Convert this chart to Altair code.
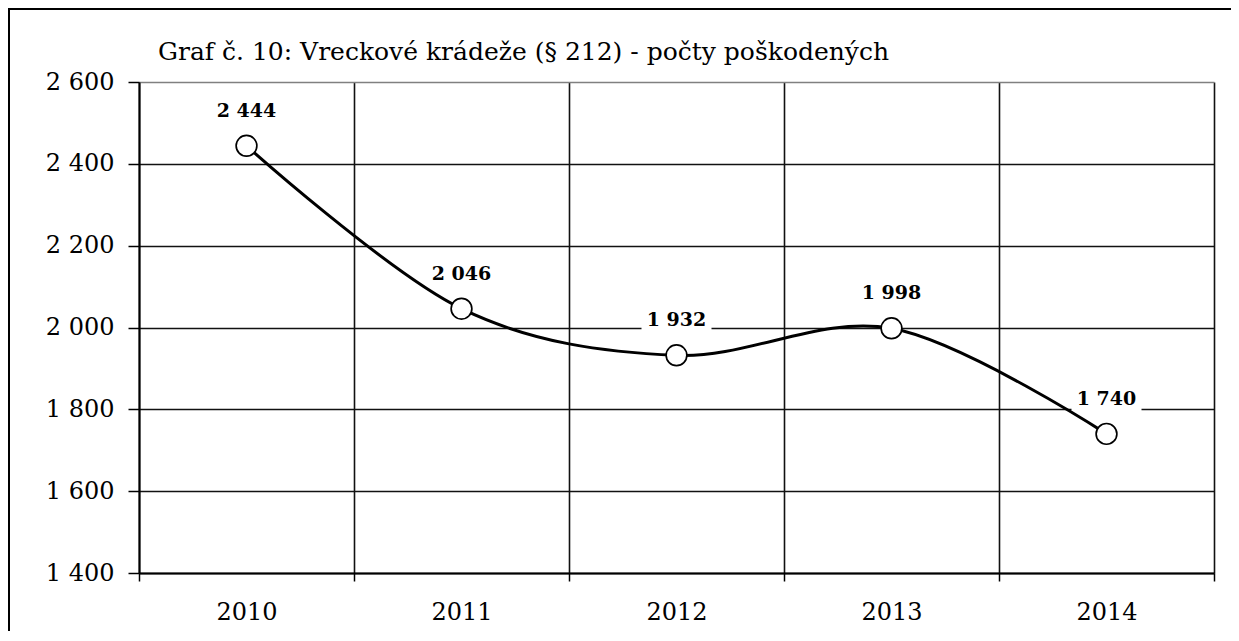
import altair as alt
import pandas as pd

# ---- data ----
years = ["2010", "2011", "2012", "2013", "2014"]
counts = [2444, 2046, 1932, 1998, 1740]
y_ticks = [1400, 1600, 1800, 2000, 2200, 2400, 2600]
title_text = "Graf č. 10: Vreckové krádeže (§ 212) - počty poškodených"

df = pd.DataFrame({"year": years, "count": counts})

FONT = "DejaVu Serif"
W, H = 1075, 491
PL, PT, PR, PB = 131, 74, 17, 58

space_fmt = "replace(format(datum.value, ','), ',', ' ')"

x_enc = alt.X(
    "year:O",
    scale=alt.Scale(type="band", paddingInner=0, paddingOuter=0),
    axis=alt.Axis(
        title=None, labelAngle=0, tickBand="extent", grid=True,
        gridColor="#111111", gridWidth=1.6,
        domainColor="#000000", domainWidth=2,
        tickColor="#000000", tickSize=8, tickWidth=1.5,
        labelFont=FONT, labelFontSize=24, labelColor="#000000",
        labelBaseline="alphabetic", labelPadding=38,
    ),
)
y_enc = alt.Y(
    "count:Q",
    scale=alt.Scale(domain=[1400, 2600], nice=False, zero=False),
    axis=alt.Axis(
        title=None, values=y_ticks, labelExpr=space_fmt, grid=True,
        gridColor={"condition": {"test": "datum.value === 2600", "value": "#808080"},
                   "value": "#111111"},
        gridWidth=1.6,
        domainColor="#000000", domainWidth=2,
        tickColor="#000000", tickSize=11, tickWidth=1.5,
        labelFont=FONT, labelFontSize=24, labelColor="#000000",
        labelPadding=14,
    ),
)

base = alt.Chart(df).encode(x=x_enc, y=y_enc).transform_calculate(
    label="replace(format(datum.count, ','), ',', ' ')"
)

one = alt.Data(values=[{"k": 1}])
frame_top = alt.Chart(one).mark_rule(color="#000000", strokeWidth=2).encode(
    x=alt.value(-PL), x2=alt.value(W + PR), y=alt.value(-PT + 1),
)
frame_left = alt.Chart(one).mark_rule(color="#000000", strokeWidth=2).encode(
    x=alt.value(-PL + 1), y=alt.value(-PT), y2=alt.value(H + PB),
)

title = alt.Chart(alt.Data(values=[{"t": title_text}])).mark_text(
    font=FONT, fontSize=25, align="left", baseline="alphabetic", color="#000000"
).encode(x=alt.value(19), y=alt.value(-22), text="t:N")

label_bg = base.mark_tick(color="#ffffff", opacity=1, size=70, thickness=28, yOffset=-35)
line = base.mark_line(color="#000000", strokeWidth=3, interpolate="cardinal")
points = base.mark_point(shape="circle", size=430, filled=True, fill="#ffffff",
                         stroke="#000000", strokeWidth=1.7, opacity=1)
labels = base.mark_text(font=FONT, fontSize=19, fontWeight="bold", dy=-35,
                        baseline="middle", color="#000000").encode(text="label:N")

chart = alt.layer(frame_top, frame_left, title, label_bg, line, points, labels).properties(
    width=W, height=H,
    autosize=alt.AutoSizeParams(type="none"),
    padding={"left": PL, "top": PT, "right": PR, "bottom": PB},
    background="#ffffff",
).configure_view(stroke=None)

chart.save("out.html", embed_options={"renderer": "svg", "actions": False})
